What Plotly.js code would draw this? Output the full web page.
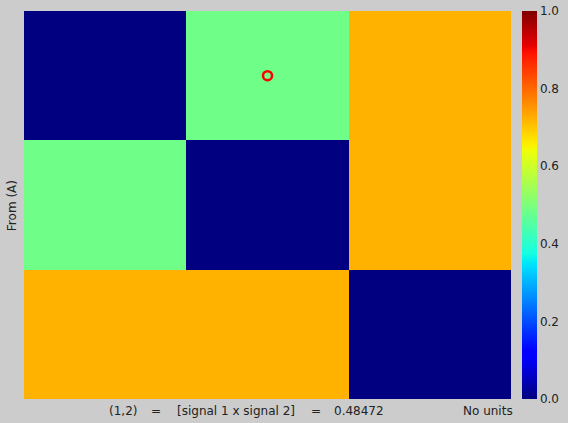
<!DOCTYPE html>
<html><head><meta charset="utf-8">
<script src="https://cdn.plot.ly/plotly-3.0.1.min.js"></script>
<style>body{margin:0;background:#cccccc;}#g{width:568px;height:423px;}</style>
</head><body><div id="g"></div>
<script>
const rows = [0, 1, 2];
const cols = [0, 1, 2];
const zValues = [
  [0.0, 0.48472, 0.72],
  [0.48472, 0.0, 0.72],
  [0.72, 0.72, 0.0]
];
const markRow = [0];
const markCol = [1];
const footerTexts = ["(1,2)", "=", "[signal 1 x signal 2]", "=", "0.48472", "No units"];
const footerPx = [122.5, 156, 235.5, 315.5, 359, 487.5];
const cbTicks = [0, 0.2, 0.4, 0.6, 0.8, 1.0];

const jet = [
  [0, 'rgb(0,0,128)'], [0.11, 'rgb(0,0,255)'], [0.125, 'rgb(0,0,255)'],
  [0.34, 'rgb(0,219,255)'], [0.35, 'rgb(0,230,247)'], [0.375, 'rgb(21,255,226)'],
  [0.64, 'rgb(239,255,8)'], [0.65, 'rgb(247,245,0)'], [0.66, 'rgb(255,236,0)'],
  [0.89, 'rgb(255,19,0)'], [0.91, 'rgb(232,0,0)'], [1, 'rgb(128,0,0)']
];

const L = 24, R = 511, T = 11, B = 399;
const W = R - L, H = B - T;
const font = {family: 'DejaVu Sans', size: 12, color: '#222222'};

const annotations = footerTexts.map((t, i) => ({
  text: t, xref: 'paper', yref: 'paper',
  x: (footerPx[i] - L) / W, y: (B - 411) / H,
  xanchor: 'center', yanchor: 'middle', showarrow: false,
  font: font
}));
annotations.push({
  text: 'From (A)', xref: 'paper', yref: 'paper',
  x: (12 - L) / W, y: 0.497, textangle: -90,
  xanchor: 'center', yanchor: 'middle', showarrow: false, font: font
});

const data = [
  {
    type: 'heatmap', x: cols, y: rows, z: zValues,
    colorscale: jet, zmin: 0, zmax: 1, hoverinfo: 'none',
    colorbar: {
      x: (522 - L) / W, xanchor: 'left', xpad: 0, ypad: 0,
      y: 0.5, yanchor: 'middle', len: 1, lenmode: 'fraction',
      thickness: 15, outlinewidth: 0, ticks: '', ticklabelpad: 4,
      tickvals: cbTicks, tickformat: '.1f', tickfont: font
    }
  },
  {
    type: 'scatter', mode: 'markers', x: markCol, y: markRow,
    marker: {symbol: 'circle-open', size: 9, color: 'red', line: {width: 2.5, color: 'red'}},
    hoverinfo: 'none', showlegend: false
  }
];

const layout = {
  width: 568, height: 423,
  margin: {l: L, r: 568 - R, t: T, b: 423 - B, pad: 0},
  paper_bgcolor: '#cccccc', plot_bgcolor: '#cccccc',
  showlegend: false,
  xaxis: {visible: false, range: [-0.5, 2.5], fixedrange: true},
  yaxis: {visible: false, range: [2.5, -0.5], fixedrange: true},
  annotations: annotations,
  font: font
};

Plotly.newPlot('g', data, layout, {staticPlot: true, displayModeBar: false});
</script>
</body></html>
